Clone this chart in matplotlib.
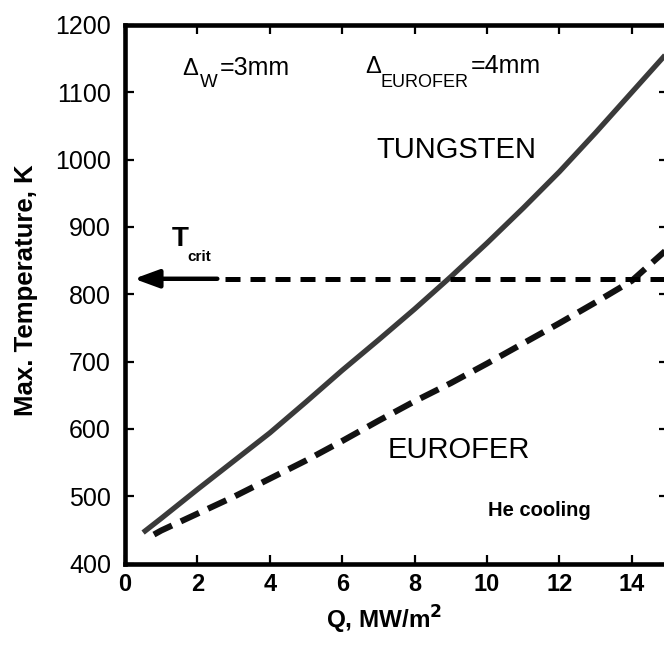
import matplotlib
matplotlib.use("Agg")
import matplotlib.pyplot as plt

plt.rcParams['font.family'] = ['Liberation Sans', 'DejaVu Sans']

# ---- data ----
q_w = [0.5, 1, 2, 3, 4, 5, 6, 7, 8, 9, 10, 11, 12, 13, 14, 15]
t_w = [446, 467, 510, 552, 594, 640, 687, 732, 778, 826, 876, 928, 982, 1040, 1100, 1160]

q_e = [0.8, 1, 2, 3, 4, 5, 6, 7, 8, 9, 10, 11, 12, 13, 14, 15]
t_e = [443, 449, 474, 499, 526, 553, 582, 612, 641, 668, 697, 727, 757, 788, 820, 868]

t_crit = 823
tcrit_arrow_q = [2.55, 0.25]
tcrit_dash_q = [2.76, 15.0]

x_ticks = [0, 2, 4, 6, 8, 10, 12, 14]
y_ticks = [400, 500, 600, 700, 800, 900, 1000, 1100, 1200]

fig = plt.figure(figsize=(6.64, 6.64), dpi=100)
ax = fig.add_axes([125/664, (664-563.5)/664, 543/664, 538.5/664])

ax.plot(q_w, t_w, color='#3a3a3a', lw=3.8, solid_capstyle='butt')
ax.plot(q_e, t_e, color='#111111', lw=4.4, dashes=(3.3, 1.6))

ax.plot(tcrit_dash_q, [t_crit, t_crit], color='black', lw=3.6, dashes=(3.0, 2.0))
ax.annotate('', xy=(tcrit_arrow_q[1], t_crit), xytext=(tcrit_arrow_q[0], t_crit),
            arrowprops=dict(arrowstyle='-|>,head_length=1.5,head_width=0.55',
                            lw=3.2, color='black', shrinkA=0, shrinkB=0))

ax.set_xlim(0, 15)
ax.set_ylim(400, 1200)
ax.set_xticks(x_ticks)
ax.set_yticks(y_ticks)

for s in ax.spines.values():
    s.set_linewidth(3.3)

ax.tick_params(direction='in', length=6.5, width=1.6, top=True, right=True)
ax.tick_params(axis='y', labelsize=18, pad=10)
ax.tick_params(axis='x', labelsize=17, pad=7)
for lab in ax.get_xticklabels():
    lab.set_fontweight('bold')

ax.set_xlabel('Q, MW/m$^\\mathbf{2}$', fontsize=17.5, fontweight='bold')
ax.xaxis.set_label_coords(0.477, -0.075)
ax.set_ylabel('Max. Temperature, K', fontsize=18.5, fontweight='bold')
ax.yaxis.set_label_coords(-0.160, 0.508)

# annotations
ax.text(1.58, 1126, 'Δ', fontsize=17, va='baseline', ha='left')
ax.text(2.07, 1108, 'W', fontsize=13.5, va='baseline', ha='left')
ax.text(2.62, 1126, '=3mm', fontsize=18, va='baseline', ha='left')

ax.text(6.63, 1128, 'Δ', fontsize=17, va='baseline', ha='left')
ax.text(7.06, 1108, 'EUROFER', fontsize=13, va='baseline', ha='left')
ax.text(9.55, 1128, '=4mm', fontsize=18, va='baseline', ha='left')

ax.text(9.15, 1003, 'TUNGSTEN', fontsize=21, va='baseline', ha='center')
ax.text(9.22, 556, 'EUROFER', fontsize=21, va='baseline', ha='center')
ax.text(11.46, 470, 'He cooling', fontsize=14.5, fontweight='bold', va='baseline', ha='center')

ax.text(1.29, 871, 'T', fontsize=20, fontweight='bold', va='baseline', ha='left')
ax.text(1.72, 849, 'crit', fontsize=11, fontweight='bold', va='baseline', ha='left')

fig.savefig('out.png', dpi=100)
